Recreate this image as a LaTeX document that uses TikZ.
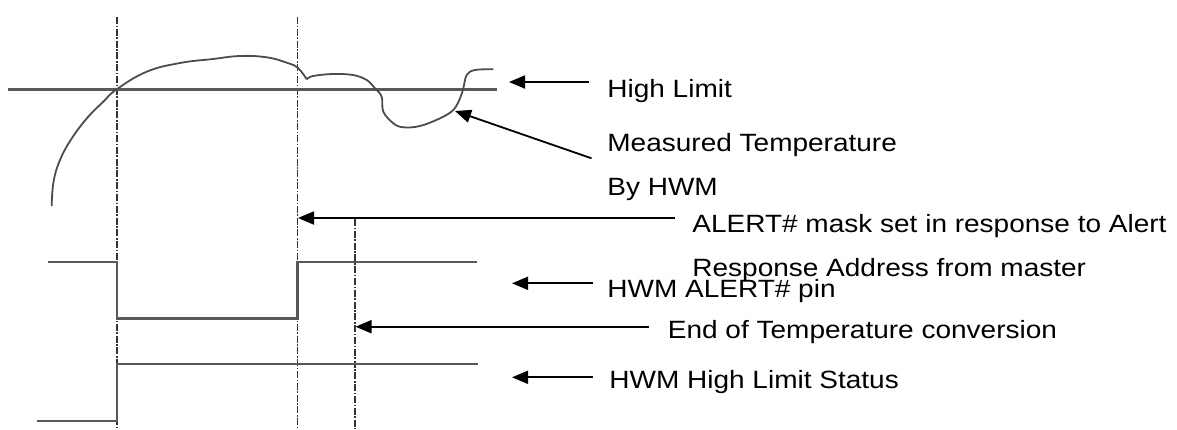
\documentclass[tikz,border=0pt]{standalone}
\usepackage{fontspec}
\setmainfont{Liberation Sans}[FakeStretch=1.12]
\usetikzlibrary{arrows.meta,positioning}

\begin{document}
\begin{tikzpicture}[x=0.5pt, y=-0.5pt,
  sig/.style={draw=black!65, line width=1.2pt},
  curve/.style={draw=black!70, line width=0.9pt},
  guide/.style={draw=black!80, line width=0.6pt, dash pattern=on 3.5pt off 0.8pt on 0.8pt off 0.8pt},
  ptr/.style={draw=black, line width=0.9pt, -{Triangle[length=8pt, width=6.5pt]}},
  lbl/.style={anchor=base west, inner sep=0pt, font=\fontsize{12.5}{15}\selectfont}]
\useasboundingbox (0,0) rectangle (1177,429);

% guide lines
\coordinate (g1) at (117,17);
\coordinate (g2) at (297.5,17);
\coordinate (g3) at (355,219);
\draw[guide] (g1) -- (g1 |- 0,429);
\draw[guide] (g2) -- (g2 |- 0,429);
\draw[guide] (g3) -- (g3 |- 0,429);

% high limit and measured temperature
\draw[sig] (8,89.3) -- (496.7,89.3);
\draw[curve] plot[smooth, tension=0.7] coordinates {
  (51.7,206) (53.5,182) (60,160) (72,138) (88,117) (103,102) (116.7,89.3)
  (146.7,71.7) (180,63) (213,59) (240,56) (266.7,57.3) (286.7,62.7) (298,68) (306.7,79.3)};
\draw[curve] plot[smooth, tension=0.6] coordinates {
  (306.7,79.3) (313,76) (333,74) (353,75) (366.7,80) (375,88.3) (381.7,96.7)
  (383.3,111.7) (393.3,123.3) (403.3,127.3) (420,126) (440,118.3) (453.3,110)
  (460,98.3) (463.3,88.3) (466.7,75) (475,70) (493.3,69.3)};

% signals
\draw[sig] (48,261.7) -| (117,318.3) -| (297.5,261.7) -- (476.5,261.7);
\draw[sig] (37,420.7) -| (117,364) -- (478,364);

% labels
\node[lbl] (limit) at (607,97) {High Limit};
\node[lbl] (meas) at (607,151) {Measured Temperature};
\node[lbl] (byhwm) at (607,195) {By HWM};
\node[lbl] (mask) at (692,232) {ALERT\# mask set in response to Alert};
\node[lbl] (resp) at (692,276) {Response Address from master};
\node[lbl] (pin) at (607,297.5) {HWM ALERT\# pin};
\node[lbl] (conv) at (667.5,338) {End of Temperature conversion};
\node[lbl] (status) at (609,388.5) {HWM High Limit Status};

% pointers
\coordinate (limit tail) at (589,82);
\coordinate (limit tip) at (509,82);
\coordinate (meas tail) at (591.5,158.3);
\coordinate (meas tip) at (455,111);
\coordinate (mask tail) at (675,218);
\coordinate (mask tip) at (298,218);
\coordinate (pin tail) at (592.5,283.3);
\coordinate (pin tip) at (512,283.3);
\coordinate (conv tail) at (649,326.7);
\coordinate (conv tip) at (355.5,326.7);
\coordinate (status tail) at (592.5,377.3);
\coordinate (status tip) at (512,377.3);

\draw[ptr] (limit tail) -- (limit tip);
\draw[ptr] (meas tail) -- (meas tip);
\draw[ptr] (mask tail) -- (mask tip);
\draw[ptr] (pin tail) -- (pin tip);
\draw[ptr] (conv tail) -- (conv tip);
\draw[ptr] (status tail) -- (status tip);
\end{tikzpicture}
\end{document}
